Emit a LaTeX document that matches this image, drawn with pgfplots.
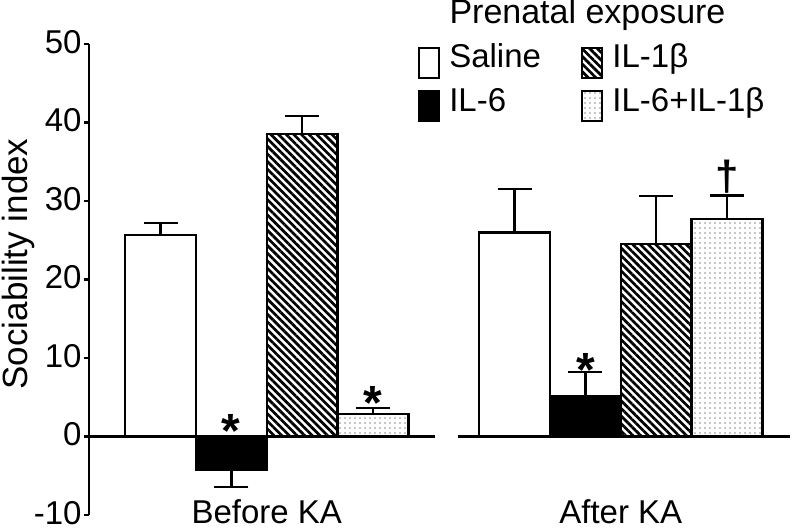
\documentclass[border=0pt]{standalone}
\usepackage{pgfplots}
\pgfplotsset{compat=1.18}
\usepackage{fontspec}
\setmainfont{Liberation Sans}
\usetikzlibrary{patterns.meta}
\pgfplotsset{
  mybar/.style={ybar, bar width=0.2, bar shift=0pt, draw=black, line width=1.2pt,
    legend image code/.code={\draw[##1,line width=1.2pt] (0bp,-5bp) rectangle (10bp,10bp);}},
  myerr/.style={error bars/.cd, y dir=#1, y explicit, error mark=-,
    error bar style={line width=1.2pt,black},
    error mark options={rotate=90, line width=1.2pt, mark size=8.5bp, black}},
}
\begin{document}
\begin{tikzpicture}[font=\fontsize{16.5bp}{19bp}\selectfont]
\useasboundingbox (0,0) rectangle (400bp,264bp);
\begin{axis}[
  at={(44.5bp,6.5bp)}, anchor=south west,
  scale only axis, width=350.5bp, height=235.5bp,
  xmin=0.498, xmax=2.478, ymin=-10, ymax=50,
  axis y line*=left, axis x line=none,
  ytick={-10,0,10,20,30,40,50},
  tick align=outside, major tick length=2.5bp,
  y axis line style={line width=1.1pt},
  ytick style={line width=1.1pt, black},
  yticklabel style={inner xsep=1bp, inner ysep=0pt, yshift=1bp},
  /pgf/number format/assume math mode=true,
  ylabel={Sociability index},
  ylabel style={at={(axis description cs:-0.101,0.533)}, anchor=center, font=\fontsize{17.5bp}{20bp}\selectfont},
  clip=false,
  legend columns=2, legend cell align=left,
  legend style={at={(axis cs:1.427,50.0)}, anchor=north west, draw=none, fill=none,
    inner sep=0pt, outer sep=0pt, row sep=4bp,
    nodes={inner sep=0pt, text height=12bp, text depth=3.5bp, anchor=base west},
    /tikz/every odd column/.style={column sep=4.5bp},
    /tikz/every even column/.style={column sep=20bp}},
]
% zero lines
\addplot[black, mark=none, line width=1.2pt, forget plot] coordinates {(0.498,0) (1.475,0)};
\addplot[black, mark=none, line width=1.2pt, forget plot] coordinates {(1.540,0) (2.478,0)};
% Saline
\addplot[mybar, fill=white, myerr=plus] coordinates {(0.7,25.7) +- (0,1.5) (1.7,26.0) +- (0,5.5)};
\addlegendentry{Saline}
% IL-1beta
\addplot[mybar, fill=white, pattern={Lines[angle=-45,distance=2.7bp,line width=1.35bp]}, pattern color=black, myerr=plus]
  coordinates {(1.1,38.5) +- (0,2.3) (2.1,24.5) +- (0,6.1)};
\addlegendentry{IL-1β}
% IL-6
\addplot[mybar, fill=black, myerr=plus] coordinates {(0.9,-4.2) +- (0,0) (1.9,5.1) +- (0,3.1)};
\addlegendentry{IL-6}
% IL-6 + IL-1beta
\addplot[mybar, pattern={Dots[distance=2.5bp,radius=0.45bp]}, pattern color=black!45, myerr=plus]
  coordinates {(1.3,2.9) +- (0,0.7) (2.3,27.7) +- (0,3.0)};
\addlegendentry{IL-6+IL-1β}
% downward error bar for IL-6 before KA
\addplot[mybar, fill=black, forget plot, myerr=minus] coordinates {(0.9,-4.2) +- (0,2.2)};
% labels
\node[anchor=base] at (axis cs:1,-11.1) {Before KA};
\node[anchor=base] at (axis cs:2,-11.1) {After KA};
\node[anchor=base, font=\fontsize{17bp}{20bp}\selectfont] at (axis cs:1.906,52.55) {Prenatal exposure};
\node[anchor=base, font=\fontsize{24bp}{28bp}\selectfont\bfseries] at (axis cs:0.9,-1.4) {*};
\node[anchor=base, font=\fontsize{24bp}{28bp}\selectfont\bfseries] at (axis cs:1.3,2.2) {*};
\node[anchor=base, font=\fontsize{24bp}{28bp}\selectfont\bfseries] at (axis cs:1.9,6.4) {*};
\node[anchor=base, font=\fontsize{21bp}{25bp}\selectfont\bfseries] at (axis cs:2.3,31.4) {†};
\end{axis}
\end{tikzpicture}
\end{document}
